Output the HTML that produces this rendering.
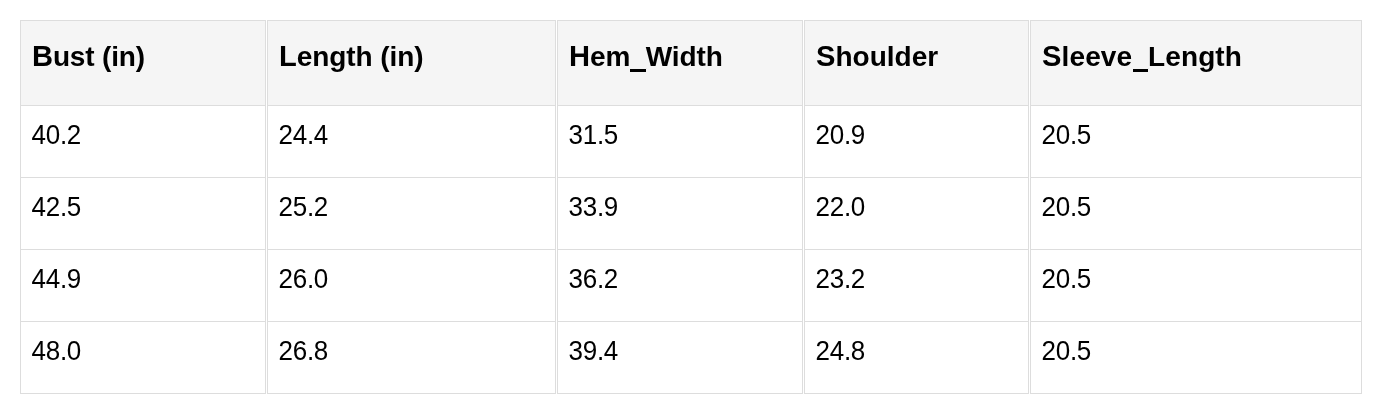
<!DOCTYPE html>
<html><head><meta charset="utf-8">
<style>
html,body{margin:0;padding:0;background:#fff;}
body{width:1381px;height:413px;overflow:hidden;position:relative;font-family:"Liberation Sans",sans-serif;color:#000;}
.grid{position:absolute;left:20px;top:20px;display:grid;grid-template-columns:246px 289px 246px 225px 332px;column-gap:1px;grid-template-rows:86px 72px 72px 72px 72px;}
.c{box-sizing:border-box;position:relative;border-left:1px solid #ddd;border-right:1px solid #ddd;border-bottom:1px solid #ddd;padding-left:10.6px;padding-bottom:12px;font-size:26px;letter-spacing:-0.3px;display:flex;align-items:center;white-space:nowrap;}
.c b{font-weight:normal;display:inline-block;transform:scaleY(1.05);transform-origin:0 23.9px;}
.h{border-top:1px solid #ddd;background:#f5f5f5;font-weight:bold;font-size:28px;padding-left:11px;padding-bottom:14px;letter-spacing:0;}
.h div{line-height:32px;}
.h div::first-letter{font-size:29.1px;}
.h s{position:absolute;top:45px;height:6px;width:19px;background:linear-gradient(#f5f5f5 0,#f5f5f5 3px,#000 3px,#000 6px);}
</style></head><body>
<div class="grid">
<div class="c h"><div style="letter-spacing:-0.15px">Bust (in)</div></div><div class="c h"><div style="letter-spacing:-0.08px">Length (in)</div></div><div class="c h"><div style="letter-spacing:-0.08px">Hem_Width</div><s style="left:70.5px;width:17.5px;border-left:1.2px solid #f5f5f5;box-sizing:border-box"></s></div><div class="c h"><div style="letter-spacing:0.02px">Shoulder</div></div><div class="c h"><div style="letter-spacing:0.13px">Sleeve_Length</div><s style="left:99.7px;width:17.7px;border-left:2.2px solid #f5f5f5;box-sizing:border-box"></s></div>
<div class="c"><b>40.2</b></div><div class="c"><b>24.4</b></div><div class="c"><b>31.5</b></div><div class="c"><b>20.9</b></div><div class="c"><b>20.5</b></div>
<div class="c"><b>42.5</b></div><div class="c"><b>25.2</b></div><div class="c"><b>33.9</b></div><div class="c"><b>22.0</b></div><div class="c"><b>20.5</b></div>
<div class="c"><b>44.9</b></div><div class="c"><b>26.0</b></div><div class="c"><b>36.2</b></div><div class="c"><b>23.2</b></div><div class="c"><b>20.5</b></div>
<div class="c"><b>48.0</b></div><div class="c"><b>26.8</b></div><div class="c"><b>39.4</b></div><div class="c"><b>24.8</b></div><div class="c"><b>20.5</b></div>
</div>
</body></html>
